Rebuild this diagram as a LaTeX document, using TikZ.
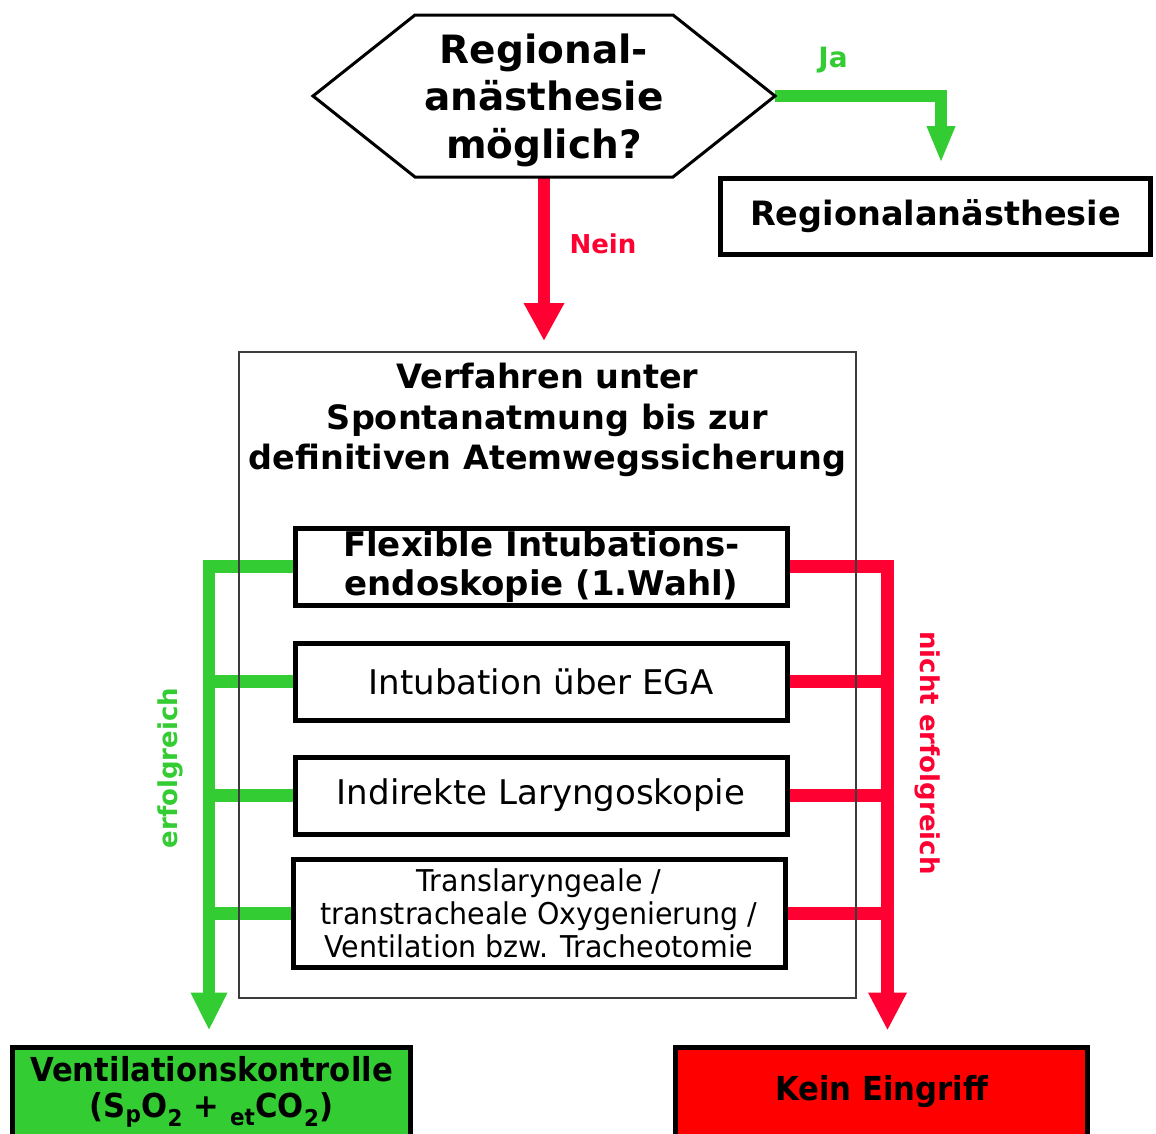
\documentclass[tikz,border=0pt]{standalone}
\usepackage{fontspec}
\setmainfont{DejaVu Sans}
\newfontfamily\condfont[FakeStretch=0.93]{DejaVu Sans}
\newfontfamily\condfontb[FakeStretch=0.95]{DejaVu Sans}
\usetikzlibrary{arrows.meta,backgrounds}
\definecolor{ggreen}{RGB}{51,204,51}
\definecolor{rred}{RGB}{255,0,51}
\definecolor{bred}{RGB}{255,0,0}
\definecolor{frame}{RGB}{60,60,60}
\begin{document}
\begin{tikzpicture}[x=1pt,y=-1pt,
  every node/.style={inner sep=0pt, outer sep=0pt},
  box/.style={draw=black, line width=5pt, fill=white, align=center, minimum width=492, minimum height=77},
  boldtxt/.style={font=\fontsize{34}{39}\selectfont\bfseries},
  regtxt/.style={font=\fontsize{34}{39}\selectfont},
  endbox/.style={draw=black, line width=5pt, align=center, minimum height=88.5,
     font=\condfont\fontsize{33}{36}\selectfont\bfseries},
  lbl/.style={font=\fontsize{26}{30}\selectfont\bfseries},
  gline/.style={draw=ggreen, line width=12.5pt, line join=miter},
  rline/.style={draw=rred, line width=12.5pt, line join=miter},
  garrow/.style={gline, -{Triangle[width=34pt,length=38pt]}},
  rarrow/.style={rline, -{Triangle[width=36pt,length=38pt]}}
]
\useasboundingbox (0,0) rectangle (1156,1133);

% decision hexagon
\node[minimum width=462, minimum height=162] (hex) at (544,96) {};
\draw[line width=3pt, line join=miter]
  (hex.west) -- ([xshift=102]hex.north west) -- ([xshift=-102]hex.north east)
  -- (hex.east) -- ([xshift=-102]hex.south east) -- ([xshift=102]hex.south west) -- cycle;
\node[align=center, font=\fontsize{39}{47.5}\selectfont\bfseries] (hextxt) at (544,100)
  {Regional-\\anästhesie\\möglich?};

% Regionalanaesthesie box
\node[draw=black, line width=5pt, minimum width=430, minimum height=76,
      font=\fontsize{33.5}{39}\selectfont\bfseries] (ra) at (935.5,216.5)
  {Regionalanästhesie};

% big frame
\node[draw=frame, line width=1.5pt, minimum width=617, minimum height=646] (big) at (547.5,675) {};
\node[align=center, font=\fontsize{33.5}{40.5}\selectfont\bfseries] (title) at (547.5,420)
  {Verfahren unter\\Spontanatmung bis zur\\definitiven Atemwegssicherung};

% inner boxes
\node[box, boldtxt] (b1) at (541.5,566.5) {Flexible Intubations-\\endoskopie (1.Wahl)};
\node[box, regtxt] (b2) at (541,681.5) {Intubation über EGA};
\node[box, regtxt] (b3) at (541,795.5) {Indirekte Laryngoskopie};
\node[box, minimum height=108, font=\condfontb\fontsize{30}{33}\selectfont] (b4) at (539,913.5)
  {Translaryngeale /\\transtracheale Oxygenierung /\\Ventilation bzw. Tracheotomie};

% end boxes
\node[endbox, fill=ggreen, minimum width=398] (vk) at (211.5,1091.75)
  {Ventilationskontrolle\\(S\textsubscript{p}O\textsubscript{2} + \textsubscript{et}CO\textsubscript{2})};
\node[endbox, fill=bred, minimum width=412] (ke) at (881.5,1091.75) {Kein Eingriff};

% labels
\node[lbl, text=ggreen, font=\fontsize{28}{30}\selectfont\bfseries] (ja) at (833,60) {Ja};
\node[lbl, text=rred] (nein) at (603,244) {Nein};
\node[lbl, text=ggreen, rotate=90] (erf) at (170,768) {erfolgreich};
\node[lbl, text=rred, rotate=-90] (nerf) at (928,753) {nicht erfolgreich};

% connectors (behind the boxes)
\begin{scope}[on background layer]
  \draw[garrow, -{Triangle[width=26pt,length=37pt]}, shorten >=15.5pt]
    (hex.east) -| ([xshift=5.5]ra.north);
  \draw[rarrow, -{Triangle[width=38pt,length=38pt]}, shorten >=11pt]
    (hex.south) -- (hex.south |- big.north);
  \draw[garrow, shorten >=17pt] (b1.west) -| ([xshift=-2.5]vk.north);
  \draw[gline] (b2.west) -- ([xshift=-2.5]b2.west -| vk.north);
  \draw[gline] (b3.west) -- ([xshift=-2.5]b3.west -| vk.north);
  \draw[gline] (b4.west) -- ([xshift=-2.5]b4.west -| vk.north);
  \draw[rarrow, shorten >=17pt] (b1.east) -| ([xshift=6]ke.north);
  \draw[rline] (b2.east) -- ([xshift=6]b2.east -| ke.north);
  \draw[rline] (b3.east) -- ([xshift=6]b3.east -| ke.north);
  \draw[rline] (b4.east) -- ([xshift=6]b4.east -| ke.north);
\end{scope}
\end{tikzpicture}
\end{document}
